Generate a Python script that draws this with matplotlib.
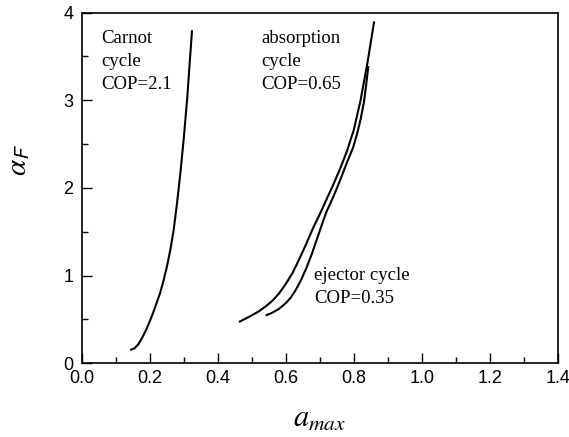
import matplotlib

matplotlib.use("Agg")
import matplotlib.pyplot as plt
from matplotlib.ticker import MultipleLocator, FormatStrFormatter

# curves (a_max, alpha_F)
carnot_x = [0.142, 0.155, 0.167, 0.180, 0.190, 0.200, 0.210, 0.220, 0.230, 0.240, 0.250,
            0.260, 0.270, 0.280, 0.290, 0.300, 0.310, 0.317, 0.324]
carnot_y = [0.15, 0.17, 0.22, 0.31, 0.39, 0.48, 0.58, 0.69, 0.80, 0.94, 1.10,
            1.29, 1.52, 1.83, 2.18, 2.58, 3.03, 3.42, 3.80]

absorption_x = [0.462, 0.480, 0.500, 0.520, 0.540, 0.560, 0.580, 0.600, 0.620, 0.640, 0.660,
                0.680, 0.700, 0.720, 0.740, 0.760, 0.780, 0.800, 0.820, 0.840, 0.860]
absorption_y = [0.47, 0.505, 0.545, 0.59, 0.645, 0.71, 0.795, 0.905, 1.03, 1.19, 1.36,
                1.54, 1.70, 1.87, 2.04, 2.22, 2.42, 2.66, 3.00, 3.42, 3.90]

ejector_x = [0.541, 0.560, 0.580, 0.600, 0.615, 0.630, 0.645, 0.660, 0.677, 0.692, 0.707,
             0.720, 0.740, 0.757, 0.780, 0.798, 0.810, 0.820, 0.830, 0.836, 0.843]
ejector_y = [0.545, 0.575, 0.62, 0.685, 0.75, 0.84, 0.95, 1.08, 1.25, 1.42, 1.59,
             1.73, 1.90, 2.06, 2.29, 2.46, 2.62, 2.78, 2.98, 3.16, 3.39]

labels = [
    (0.056, 3.65, ["Carnot", "cycle", "COP=2.1"]),
    (0.527, 3.65, ["absorption", "cycle", "COP=0.65"]),
    (0.684, 0.95, ["ejector cycle", "COP=0.35"]),
]

plt.rcParams["mathtext.fontset"] = "stix"
plt.rcParams["font.family"] = ["Liberation Sans", "DejaVu Sans"]

fig = plt.figure(figsize=(5.69, 4.37), dpi=100)
ax = fig.add_axes([0.144, 0.169, 0.836, 0.802])

for xs, ys in [(carnot_x, carnot_y), (absorption_x, absorption_y), (ejector_x, ejector_y)]:
    ax.plot(xs, ys, color="black", lw=1.5, solid_capstyle="butt", solid_joinstyle="round")

line_step = 0.262
for x0, y0, lines in labels:
    for i, txt in enumerate(lines):
        ax.text(x0, y0 - i * line_step, txt, fontsize=13.5, family="Liberation Serif",
                ha="left", va="baseline")

ax.set_xlim(0.0, 1.4)
ax.set_ylim(0, 4)
ax.xaxis.set_major_locator(MultipleLocator(0.2))
ax.xaxis.set_minor_locator(MultipleLocator(0.1))
ax.yaxis.set_major_locator(MultipleLocator(1))
ax.yaxis.set_minor_locator(MultipleLocator(0.5))
ax.xaxis.set_major_formatter(FormatStrFormatter("%.1f"))
ax.tick_params(which="major", direction="in", length=7, width=1.0, labelsize=13)
ax.tick_params(axis="x", which="major", pad=5)
ax.tick_params(axis="y", which="major", pad=6)
ax.tick_params(which="minor", direction="in", length=4, width=1.0)
ax.tick_params(top=False, right=False)
for s in ax.spines.values():
    s.set_linewidth(1.2)

ax.set_xlabel(r"$a_{max}$", fontsize=22)
ax.xaxis.set_label_coords(0.5, -0.115)
ax.set_ylabel(r"$\alpha_{\mathsf{F}}$", fontsize=21)
ax.yaxis.set_label_coords(-0.105, 0.58)

fig.savefig("out.png", dpi=100)
